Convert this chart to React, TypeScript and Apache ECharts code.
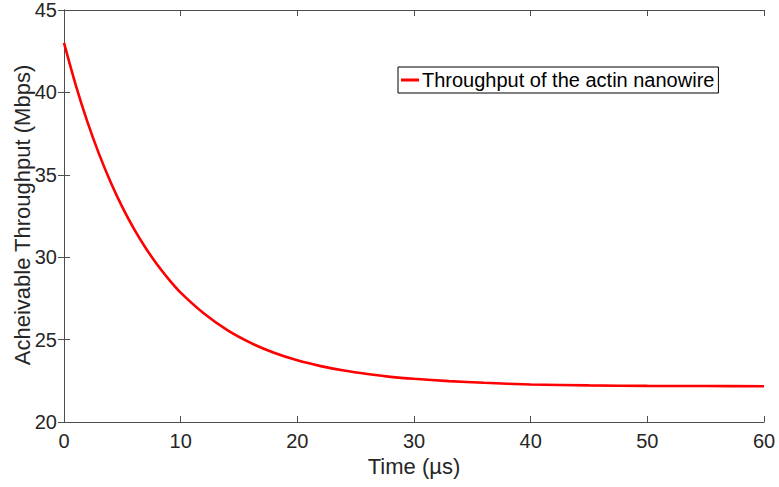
import React, { useEffect, useRef } from "react";
import * as echarts from "echarts";

const timeUs = [0, 1, 2, 3, 4, 5, 6, 7, 8, 9, 10, 12, 14, 16, 18, 20, 22, 24, 26, 28, 30, 33, 36, 40, 45, 50, 55, 60];
const throughput = [43.0, 40.46, 38.23, 36.27, 34.55, 33.04, 31.72, 30.56, 29.54, 28.64, 27.85, 26.58, 25.57, 24.8, 24.2, 23.74, 23.39, 23.12, 22.91, 22.74, 22.62, 22.48, 22.38, 22.28, 22.22, 22.19, 22.18, 22.17];
const seriesName = "Throughput of the actin nanowire";
const xTitle = "Time (µs)";
const yTitle = "Acheivable Throughput (Mbps)";

const FONT = "'Liberation Sans', Arial, Helvetica, sans-serif";
const AXIS_COLOR = "#4d4d4d";
const TEXT_COLOR = "#262626";

export default function App() {
  const ref = useRef<HTMLDivElement>(null);
  useEffect(() => {
    if (!ref.current) return;
    const chart = echarts.init(ref.current, undefined, { renderer: "svg" });
    const data = timeUs.map((t, i) => [t, throughput[i]]);
    const axisLine = { show: true, lineStyle: { color: AXIS_COLOR, width: 1 } };
    const axisTick = { show: true, inside: true, length: 6, lineStyle: { color: AXIS_COLOR, width: 1 } };
    chart.setOption({
      animation: false,
      backgroundColor: "#ffffff",
      textStyle: { fontFamily: FONT },
      grid: { left: 64, right: 15, top: 10, bottom: 65, containLabel: false, outerBoundsMode: "none" },
      graphic: [
        {
          type: "text",
          x: 22,
          y: 215,
          rotation: Math.PI / 2,
          style: {
            text: yTitle,
            fontFamily: FONT,
            fontSize: 22,
            fill: TEXT_COLOR,
            align: "center",
            verticalAlign: "middle",
          },
        },
      ],
      legend: {
        data: [seriesName],
        left: 398,
        top: 67,
        orient: "horizontal",
        borderColor: "#000000",
        borderWidth: 1,
        padding: [3, 4, 3, 3],
        backgroundColor: "#ffffff",
        icon: "rect",
        itemWidth: 18,
        itemHeight: 3,
        itemGap: 4,
        textStyle: { fontFamily: FONT, fontSize: 20, color: "#000000", padding: [0, 0, 0, -2] },
      },
      xAxis: [
        {
          type: "value",
          min: 0,
          max: 60,
          interval: 10,
          position: "bottom",
          name: xTitle,
          nameLocation: "middle",
          nameGap: 32,
          nameTextStyle: { fontFamily: FONT, fontSize: 22, color: TEXT_COLOR },
          axisLine,
          axisTick,
          axisLabel: { fontFamily: FONT, fontSize: 20, color: TEXT_COLOR, margin: 9 },
          splitLine: { show: false },
        },
        {
          type: "value",
          min: 0,
          max: 60,
          interval: 10,
          position: "top",
          axisLine,
          axisTick,
          axisLabel: { show: false },
          splitLine: { show: false },
        },
      ],
      yAxis: [
        {
          type: "value",
          min: 20,
          max: 45,
          interval: 5,
          position: "left",
          axisLine,
          axisTick,
          axisLabel: { fontFamily: FONT, fontSize: 20, color: TEXT_COLOR, margin: 7 },
          splitLine: { show: false },
        },
        {
          type: "value",
          min: 20,
          max: 45,
          interval: 5,
          position: "right",
          axisLine,
          axisTick,
          axisLabel: { show: false },
          splitLine: { show: false },
        },
      ],
      series: [
        {
          name: seriesName,
          type: "line",
          data,
          smooth: 0.3,
          showSymbol: false,
          symbol: "none",
          xAxisIndex: 0,
          yAxisIndex: 0,
          lineStyle: { color: "#ff0000", width: 2.6 },
          itemStyle: { color: "#ff0000" },
        },
      ],
    });
    return () => chart.dispose();
  }, []);
  return <div ref={ref} style={{ width: 779, height: 487, position: "absolute", left: 0, top: 0 }} />;
}
